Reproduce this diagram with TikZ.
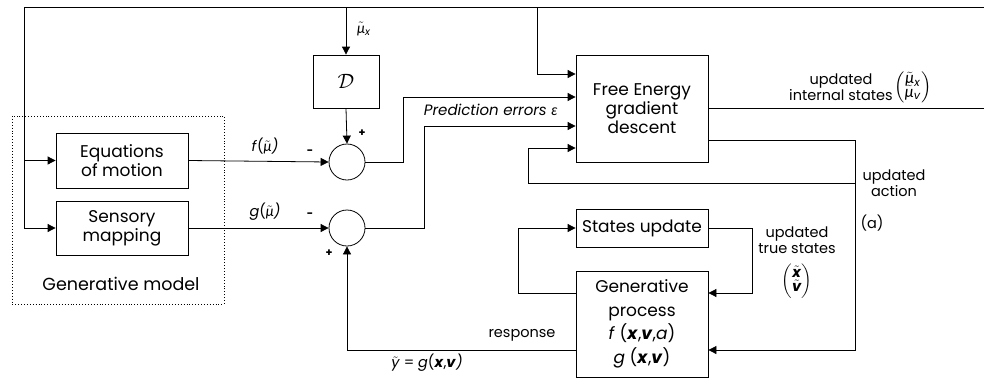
\documentclass[tikz,border=0pt]{standalone}
\usepackage{fontspec}
\usepackage{amsmath}
\setmainfont{Poppins}
\newfontfamily\grk{Lato}
\usetikzlibrary{arrows.meta}
% tilde placed over a text-mode symbol
\newcommand{\tld}[1]{$\tilde{\mbox{#1}}$}
\newcommand{\tmu}{\tld{{\grk\itshape μ}}}
\newcommand{\bx}{\textbf{\textit{x}}}
\newcommand{\bv}{\textbf{\textit{v}}}
\begin{document}
\begin{tikzpicture}[x=1pt,y=-1pt,
  line width=0.8pt,
  arr/.style={-{Triangle[length=8pt,width=8pt]}},
  blk/.style={draw, align=center, inner sep=1pt, minimum width=132pt,
              font=\fontsize{17}{19}\selectfont},
  sumnode/.style={draw, circle, minimum size=36pt, inner sep=0pt},
  lbl/.style={font=\fontsize{14.5}{15.5}\selectfont, inner sep=1pt, align=center},
  sgn/.style={font=\fontsize{11}{12}\selectfont\bfseries, inner sep=0pt}]
\useasboundingbox (0,0) rectangle (984,378);

% generative model (dotted frame)
\draw[dotted, line width=0.9pt] (12,116) rectangle (224,304);
\node[font=\fontsize{17.5}{19}\selectfont] (gmlabel) at (121,284) {Generative model};
\node[blk, minimum height=55pt] (eq) at (122,160.5) {Equations\\of motion};
\node[blk, minimum height=54pt] (sens) at (122,228) {Sensory\\mapping};

% derivative operator and summing junctions
\node[blk, minimum width=66pt, minimum height=53pt, font=\fontsize{22}{24}\selectfont] (D) at (346,81.5) {$\mathcal{D}$};
\node[sumnode] (s1) at (347,162) {};
\node[sumnode] (s2) at (347,228) {};

% free energy and generative process blocks
\node[blk, minimum height=107pt] (fe) at (642,108.5) {Free Energy\\gradient\\descent};
\node[blk, minimum height=38pt] (su) at (642,228) {States update};
\node[blk, minimum height=106pt, font=\fontsize{17}{23.5}\selectfont] (gp) at (642,324)
  {Generative\\process\\\textit{f} (\bx,\bv,\textit{a})\\\textit{g} (\bx,\bv)};

% top feedback line of internal states
\coordinate (tl) at (24,7);
\coordinate (tr) at (984,7);
\coordinate (outr) at (984,108);
\draw (sens.west -| tl) -- (tl) -- (tr);
\draw[arr] (eq.west -| tl) -- (eq.west);
\draw[arr] (sens.west -| tl) -- (sens.west);
\draw[arr] (D.north |- tl) -- (D.north);
\draw[arr] (D.south) -- (s1.north);
\draw[arr] (537,7) |- (fe.west |- 0,74);

% model predictions into the junctions
\draw[arr] (eq.east) -- (s1.west);
\draw[arr] (sens.east) -- (s2.west);

% prediction errors
\draw[arr] (s1.east) -- (403,162) |- (fe.west |- 0,97);
\draw[arr] (s2.east) -- (424,228) |- (fe.west |- 0,126);

% outputs of the gradient descent
\draw (fe.east |- outr) -- (outr);
\coordinate (ac) at (855,140);
\draw[arr] (fe.east |- ac) -- (ac) |- (gp.east |- 0,350);
\draw[arr] (ac |- 0,183) -- (528,183) |- (fe.west |- 0,148);

% generative process loops
\draw[arr] (gp.west |- 0,293) -- (518,293) |- (su.west);
\draw[arr] (su.east) -- (752,228) |- (gp.east |- 0,293);
\draw[arr] (gp.west |- 0,350) -- (347,350) -- (s2.south);

% labels
\node[lbl] (lmux) at (364,29) {\tmu\textsubscript{\textit{x}}};
\node[sgn] (p1) at (362,133) {+};
\node[sgn] (m1) at (310,152) {-};
\node[lbl] (lf) at (265,146) {\textit{f}(\tmu\textit{)}};
\node[lbl] (lg) at (265,212) {\textit{g}(\tmu\textit{)}};
\node[sgn] (m2) at (310,215) {-};
\node[sgn] (p2) at (329,253) {+};
\node[lbl, anchor=east, font=\fontsize{15}{16}\selectfont] (lpe) at (559,110) {\textit{Prediction errors {\grk ε}}};
\node[lbl] (lint) at (841,87) {updated\\internal states};
\node[lbl, font=\fontsize{16}{17}\selectfont] (mint) at (913,87)
  {$\left(\begin{array}{@{}c@{}}\mbox{\tmu\textsubscript{\textit{x}}}\\[-4pt]\mbox{\tmu\textsubscript{\textit{v}}}\end{array}\right)$};
\node[lbl] (lact) at (894,183) {updated\\action};
\node[lbl] (la) at (872,223) {(a)};
\node[lbl] (ltrue) at (797,240) {updated\\true states};
\node[lbl, font=\fontsize{14.5}{15}\selectfont] (mtrue) at (797,281)
  {$\left(\begin{array}{@{}c@{}}\mbox{\tld{\bx}}\\[-2pt]\mbox{\tld{\bv}}\end{array}\right)$};
\node[lbl] (lresp) at (522,335) {response};
\node[lbl] (ly) at (427,363) {\tld{\textit{y}} = \textit{g}(\bx,\bv\textit{)}};
\end{tikzpicture}
\end{document}
